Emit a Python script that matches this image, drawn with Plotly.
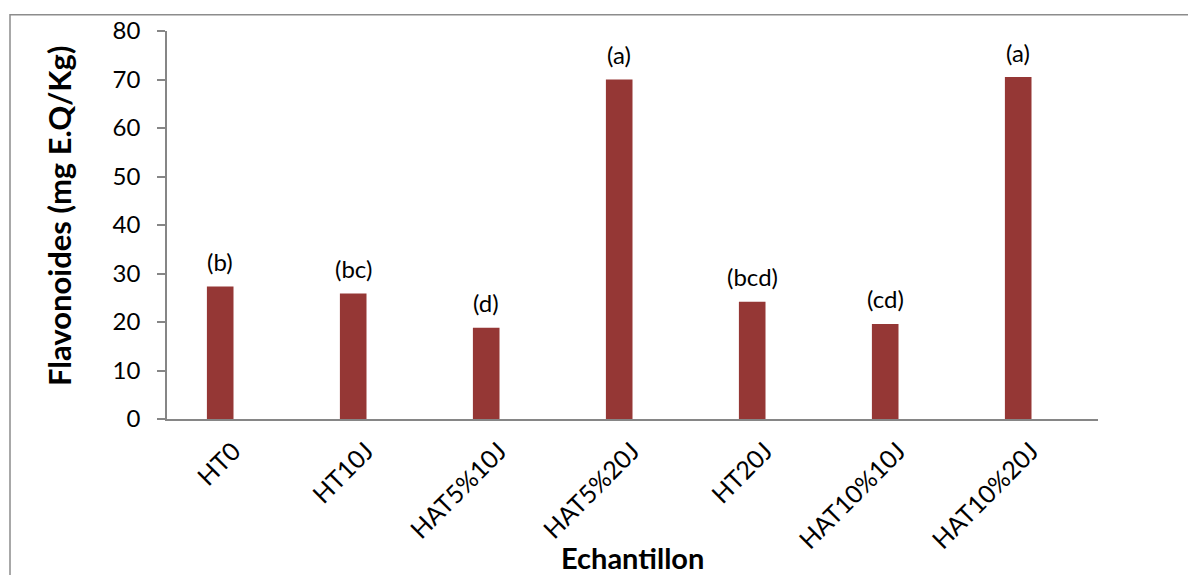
import plotly.graph_objects as go

categories = ["HT0", "HT10J", "HAT5%10J", "HAT5%20J", "HT20J", "HAT10%10J", "HAT10%20J"]
values = [27.3, 25.9, 18.8, 70.0, 24.2, 19.6, 70.5]
letters = ["(b)", "(bc)", "(d)", "(a)", "(bcd)", "(cd)", "(a)"]
y_ticks = [0, 10, 20, 30, 40, 50, 60, 70, 80]

FONT = "Lato, Calibri, Carlito, sans-serif"
BAR = "#953735"
AX = "#868686"

W, H = 1188, 575
ML, MR, MT, MB = 167, 90, 31, 156
pw = W - ML - MR
ph = H - MT - MB

fig = go.Figure()
fig.add_trace(go.Bar(
    x=categories, y=values,
    width=0.2, offset=-0.2,
    marker=dict(color=BAR, line=dict(width=0)),
    hoverinfo="x+y",
))

annotations = []
for i, (v, t) in enumerate(zip(values, letters)):
    annotations.append(dict(
        x=i - 0.1, y=v, xref="x", yref="y", text=t, showarrow=False,
        yshift=25, yanchor="middle", xanchor="center",
        font=dict(family=FONT, size=24, color="black"),
    ))

annotations.append(dict(
    x=0.5, y=(H - MB - 557) / ph, xref="paper", yref="paper",
    text="<b>Echantillon</b>", showarrow=False, xanchor="center", yanchor="middle",
    font=dict(family=FONT, size=29, color="black"),
))
annotations.append(dict(
    x=(59 - ML) / pw, y=(H - MB - 216) / ph, xref="paper", yref="paper",
    text="<b>Flavonoides (mg E.Q/Kg)</b>", showarrow=False, textangle=-90,
    xanchor="center", yanchor="middle",
    font=dict(family=FONT, size=31, color="black"),
))

fig.update_layout(
    width=W, height=H,
    margin=dict(l=ML, r=MR, t=MT, b=MB, pad=0),
    paper_bgcolor="white", plot_bgcolor="white",
    showlegend=False,
    font=dict(family=FONT, color="black"),
    annotations=annotations,
    shapes=[dict(
        type="rect", xref="paper", yref="paper",
        x0=(10 - ML) / pw, x1=(W + 20 - ML) / pw,
        y0=(H - MB - (H + 20)) / ph, y1=(H - MB - 14.7) / ph,
        line=dict(color="#8c8c8c", width=1.5), fillcolor="rgba(0,0,0,0)", layer="below",
    )],
)
fig.update_xaxes(
    type="category", range=[-0.5, 6.5],
    showline=True, linecolor=AX, linewidth=1.5,
    ticks="", tickangle=-45, showgrid=False, zeroline=False,
    tickfont=dict(family=FONT, size=25, color="black"),
    ticklabelstandoff=6,
)
fig.update_yaxes(
    range=[0, 80], tickvals=y_ticks,
    showline=True, linecolor=AX, linewidth=1.5,
    ticks="outside", ticklen=8, tickcolor=AX, tickwidth=1.5,
    showgrid=False, zeroline=False,
    tickfont=dict(family=FONT, size=24, color="black"),
    ticklabelstandoff=12,
)

fig.write_html("out.html")
